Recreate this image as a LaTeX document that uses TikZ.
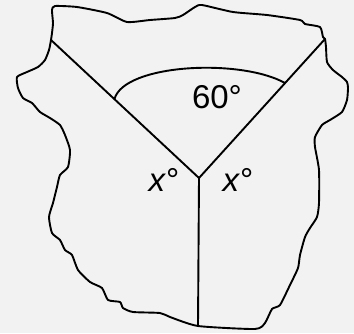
\documentclass[tikz,border=0pt]{standalone}
\usepackage{fontspec}
\setmainfont{Liberation Sans}
\definecolor{paperbg}{gray}{0.949}

\begin{document}
\begin{tikzpicture}[x=1pt, y=-1pt, line width=1.9pt, line join=round, line cap=round,
  anglelabel/.style={font=\fontsize{33}{40}\selectfont, inner sep=0pt, anchor=base}]
  \fill[paperbg] (0,0) rectangle (354,333);
  \useasboundingbox (0,0) rectangle (354,333);

  % torn edge of the paper
  \draw plot[smooth cycle, tension=0.35] coordinates {
    (55,6) (77,7) (107,13) (127,22) (150,20) (175,18) (183,15) (195,7) (202,5)
    (233,12) (267,15) (300,20) (305,24) (320,27) (323,37) (325,39) (326,47)
    (327,62) (333,70) (342,77) (347,82) (348,88) (347,100) (342,112) (330,120)
    (322,125) (315,137) (315,147) (319,170) (319,203) (317,217) (310,228)
    (305,237) (300,255) (298,268) (290,285) (280,305) (272,309) (265,323)
    (255,329) (198,326) (170,317) (160,313) (133,312) (123,308) (120,302)
    (108,300) (102,288) (90,282) (78,270) (72,255) (65,250) (60,240) (52,233)
    (49,217) (53,203) (57,187) (60,175) (68,167) (70,150) (65,135) (60,125)
    (50,118) (40,112) (32,103) (23,98) (18,88) (17,77) (27,72) (38,67) (45,60)
    (49,50) (51,40) (52,33) (53,23) (52,10)};

  \coordinate (vertex) at (199,178);
  \coordinate (upleft) at (51,40);
  \coordinate (upright) at (325,39);
  \coordinate (bottom) at (198,326);
  \coordinate (arcleft) at (114.5,99);
  \coordinate (arcright) at (285,83);

  \draw (vertex) -- (upleft);
  \draw (vertex) -- (upright);
  \draw (vertex) -- (bottom);

  \draw (arcleft) .. controls (124,64) and (240,58) .. (arcright);

  \node[anglelabel] (sixty) at (217,108) {60°};
  \node[anglelabel] (xleft) at (164,191) {\textit{x}°};
  \node[anglelabel] (xright) at (238,191) {\textit{x}°};
\end{tikzpicture}
\end{document}
